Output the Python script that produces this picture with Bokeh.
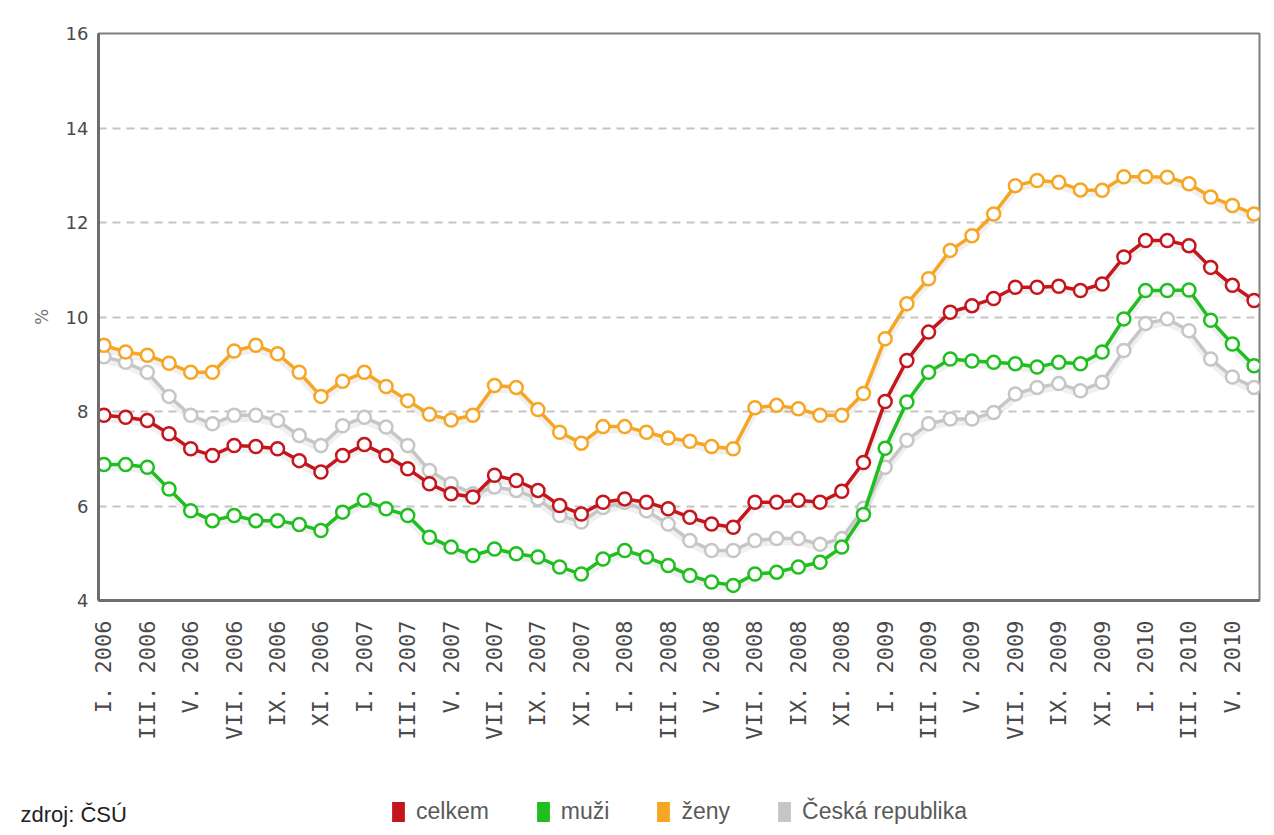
import math
from bokeh.plotting import figure
from bokeh.layouts import column, row
from bokeh.models import (ColumnDataSource, FixedTicker, Range1d, Legend, LegendItem, Label)
from bokeh.embed import file_html
from bokeh.resources import INLINE

# ---- data -------------------------------------------------------------
roman = ["I", "II", "III", "IV", "V", "VI", "VII", "VIII", "IX", "X", "XI", "XII"]
years = [2006, 2007, 2008, 2009, 2010]
months = [f"{r}. {y}" for y in years for r in roman][:54]   # I. 2006 .. VI. 2010

celkem = [7.92, 7.88, 7.81, 7.53, 7.21, 7.07, 7.28, 7.26, 7.21, 6.96,
          6.72, 7.07, 7.30, 7.07, 6.79, 6.47, 6.26, 6.19, 6.65, 6.54,
          6.33, 6.01, 5.83, 6.08, 6.15, 6.08, 5.94, 5.76, 5.62, 5.55,
          6.08, 6.08, 6.12, 6.08, 6.31, 6.92, 8.21, 9.08, 9.68, 10.10,
          10.24, 10.39, 10.63, 10.63, 10.65, 10.56, 10.70, 11.27, 11.62, 11.62,
          11.51, 11.05, 10.67, 10.35]
muzi = [6.88, 6.88, 6.82, 6.36, 5.90, 5.69, 5.80, 5.69, 5.69, 5.61,
        5.48, 5.87, 6.12, 5.94, 5.80, 5.34, 5.13, 4.95, 5.09, 4.99,
        4.92, 4.71, 4.56, 4.88, 5.06, 4.92, 4.74, 4.53, 4.39, 4.32,
        4.56, 4.60, 4.71, 4.81, 5.13, 5.82, 7.22, 8.20, 8.83, 9.11,
        9.07, 9.04, 9.01, 8.94, 9.04, 9.01, 9.26, 9.96, 10.56, 10.56,
        10.57, 9.93, 9.43, 8.97]
zeny = [9.40, 9.26, 9.19, 9.02, 8.83, 8.83, 9.28, 9.40, 9.22, 8.83,
        8.32, 8.64, 8.83, 8.53, 8.23, 7.94, 7.82, 7.92, 8.55, 8.51,
        8.04, 7.56, 7.33, 7.68, 7.68, 7.56, 7.44, 7.37, 7.26, 7.21,
        8.08, 8.13, 8.06, 7.92, 7.92, 8.38, 9.54, 10.28, 10.81, 11.41,
        11.72, 12.18, 12.78, 12.89, 12.85, 12.69, 12.68, 12.97, 12.97, 12.96,
        12.82, 12.54, 12.36, 12.18]
cr = [9.16, 9.04, 8.83, 8.32, 7.92, 7.74, 7.92, 7.92, 7.81, 7.49,
      7.28, 7.70, 7.88, 7.67, 7.28, 6.75, 6.47, 6.26, 6.40, 6.33,
      6.15, 5.80, 5.66, 5.97, 6.08, 5.90, 5.62, 5.27, 5.06, 5.06,
      5.27, 5.31, 5.31, 5.19, 5.31, 5.95, 6.82, 7.39, 7.74, 7.84,
      7.84, 7.98, 8.37, 8.51, 8.59, 8.44, 8.62, 9.29, 9.86, 9.96,
      9.71, 9.11, 8.73, 8.51]

series_names = ["celkem", "muži", "ženy", "Česká republika"]
series_values = [celkem, muzi, zeny, cr]
series_colors = ["#c4161c", "#1fbf1f", "#f6a623", "#c6c6c6"]
y_ticks = [4, 6, 8, 10, 12, 14, 16]
source_note = "zdroj: ČSÚ"

# ---- main figure ------------------------------------------------------
LEFT = 98
idx = list(range(len(months)))
p = figure(width=1266, height=768, output_backend="svg", toolbar_location=None,
           x_range=Range1d(-0.25, len(months) - 0.75), y_range=Range1d(4, 16),
           min_border_left=LEFT, min_border_right=7, min_border_top=33,
           min_border_bottom=168)
p.background_fill_color = "white"
p.border_fill_color = "white"
p.outline_line_color = "#7e7e7e"
p.outline_line_width = 2

p.xaxis.ticker = FixedTicker(ticks=idx[::2])
p.xaxis.major_label_overrides = {i: months[i] for i in idx[::2]}
p.xaxis.major_label_orientation = math.pi / 2
p.xaxis.major_label_standoff = 14
p.xaxis.major_label_text_font = "DejaVu Sans Mono"
p.xaxis.major_label_text_font_size = "22px"
p.xaxis.major_label_text_color = "#4a4a4a"

p.yaxis.ticker = FixedTicker(ticks=y_ticks)
p.yaxis.major_label_standoff = 4
p.yaxis.major_label_text_font = "DejaVu Sans"
p.yaxis.major_label_text_font_size = "18px"
p.yaxis.major_label_text_color = "#4a4a4a"
p.yaxis.axis_label = "%"
p.yaxis.axis_label_text_font = "DejaVu Sans"
p.yaxis.axis_label_text_font_style = "normal"
p.yaxis.axis_label_text_font_size = "17px"
p.yaxis.axis_label_text_color = "#777777"
p.yaxis.axis_label_standoff = 11

for ax in (p.xaxis, p.yaxis):
    ax.axis_line_color = "#6e6e6e"
    ax.axis_line_width = 3
    ax.major_tick_line_color = None
    ax.minor_tick_line_color = None

p.xgrid.grid_line_color = None
p.ygrid.grid_line_color = "#c4c4c4"
p.ygrid.grid_line_width = 2
p.ygrid.grid_line_dash = "8 6"

# soft drop shadow: same scale, shifted slightly downward
p.extra_y_ranges = {"shadow": Range1d(4 + 0.07, 16 + 0.07)}

draw_order = [3, 0, 1, 2]
for k in draw_order:
    src = ColumnDataSource(dict(x=idx, y=series_values[k]))
    p.line("x", "y", source=src, line_color="#000000", line_alpha=0.06,
           line_width=7, y_range_name="shadow")
for k in draw_order:
    src = ColumnDataSource(dict(x=idx, y=series_values[k]))
    p.line("x", "y", source=src, line_color=series_colors[k], line_width=3.5)
    p.scatter("x", "y", source=src, size=13, marker="circle",
              fill_color="white", line_color=series_colors[k], line_width=2.5)

# ---- legend strip -----------------------------------------------------
q = figure(width=1266, height=60, output_backend="svg", toolbar_location=None,
           x_axis_type=None, y_axis_type=None, min_border=0,
           x_range=Range1d(0, 1), y_range=Range1d(0, 1))
q.outline_line_color = None
q.grid.grid_line_color = None
q.background_fill_color = "white"
q.border_fill_color = "white"

nan = float("nan")
items = []
for name, col in zip(series_names, series_colors):
    r = q.quad(left=[nan], right=[nan], top=[nan], bottom=[nan],
               fill_color=col, line_color=None)
    items.append(LegendItem(label=name, renderers=[r]))
legend = Legend(items=items, orientation="horizontal", location=(390, 3),
                glyph_width=16, glyph_height=25, label_height=20,
                label_standoff=10, spacing=46, padding=0, margin=0,
                border_line_color=None, background_fill_alpha=0,
                label_text_font="Liberation Sans", label_text_font_size="23px",
                label_text_color="#5a5a5a", label_text_baseline="middle")
q.add_layout(legend)

q.add_layout(Label(x=20, y=14, x_units="screen", y_units="screen",
                   text=source_note, text_font="Liberation Sans",
                   text_font_size="22px", text_color="#222222",
                   text_baseline="middle"))

open("out.html", "w").write(file_html(column(p, row(q)), INLINE))
